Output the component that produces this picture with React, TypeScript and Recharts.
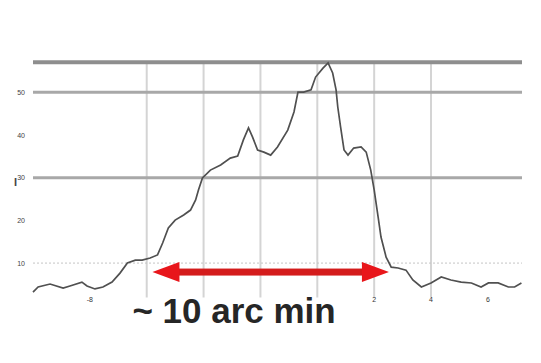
import React from "react";
import { LineChart, Line, XAxis, YAxis, ReferenceLine } from "recharts";

const xPositions = [0, 0.09, 0.3, 0.53, 0.65, 0.86, 0.95, 1.09, 1.23, 1.39, 1.53, 1.66, 1.8, 1.92, 2.06, 2.19, 2.28, 2.38, 2.5, 2.65, 2.77, 2.86, 2.91, 2.98, 3.12, 3.3, 3.47, 3.6, 3.7, 3.79, 3.86, 3.95, 4.06, 4.18, 4.3, 4.48, 4.59, 4.66, 4.76, 4.89, 4.97, 5.1, 5.19, 5.27, 5.33, 5.36, 5.41, 5.47, 5.54, 5.64, 5.77, 5.86, 5.94, 6.0, 6.07, 6.12, 6.21, 6.3, 6.42, 6.56, 6.68, 6.83, 7.0, 7.18, 7.35, 7.53, 7.71, 7.88, 8.01, 8.18, 8.36, 8.47, 8.59];
const profileValues = [0.065, 0.089, 0.103, 0.084, 0.094, 0.112, 0.094, 0.08, 0.089, 0.112, 0.154, 0.201, 0.215, 0.215, 0.225, 0.239, 0.295, 0.365, 0.402, 0.426, 0.449, 0.496, 0.543, 0.599, 0.636, 0.66, 0.692, 0.702, 0.777, 0.833, 0.791, 0.73, 0.72, 0.706, 0.744, 0.823, 0.908, 1.001, 1.001, 1.011, 1.071, 1.113, 1.137, 1.09, 1.011, 0.931, 0.837, 0.73, 0.706, 0.739, 0.744, 0.72, 0.636, 0.543, 0.416, 0.323, 0.229, 0.182, 0.178, 0.168, 0.122, 0.089, 0.108, 0.136, 0.122, 0.112, 0.108, 0.089, 0.108, 0.108, 0.089, 0.089, 0.108];
const xTicks = [1, 6, 7, 8];
const xTickLabels = ["-8", "2", "4", "6"];
const yTicks = [0.2, 0.4, 0.6, 0.8, 1.0];
const yTickLabels = ["10", "20", "30", "40", "50"];
const verticalGrid = [2, 3, 4, 5, 6, 7];
const thickLevels = [1.14, 1.0, 0.6];
const dottedLevel = 0.201;
const arrowStart = 2.1;
const arrowEnd = 6.26;
const arrowLevel = 0.159;
const annotation = "~ 10 arc min";
const yTitle = "I";

const data = xPositions.map((x, i) => ({ x, v: profileValues[i] }));

const ArrowShape = (props: any) => {
  const { x1, y1, x2 } = props;
  const y = y1;
  const head = 27;
  const half = 10;
  const shaft = 3.5;
  const left = Math.min(x1, x2);
  const right = Math.max(x1, x2);
  return (
    <g>
      <rect x={left + head - 2} y={y - shaft} width={right - left - 2 * head + 4} height={shaft * 2} fill="#d41c1c" />
      <polygon points={`${left},${y} ${left + head},${y - half} ${left + head},${y + half}`} fill="#e8161b" />
      <polygon points={`${right},${y} ${right - head},${y - half} ${right - head},${y + half}`} fill="#e8161b" />
      <text x={left - 20} y={y + 51} fontFamily="Liberation Sans, Arial, sans-serif" fontWeight="bold" fontSize={35} fill="#262626">
        {annotation}
      </text>
    </g>
  );
};

export default function App() {
  return (
    <div style={{ position: "absolute", left: 0, top: 0, width: 541, height: 363, background: "#fff" }}>
      <LineChart width={541} height={363} data={data} margin={{ top: 49.5, right: 19, bottom: 45.5, left: 0 }}>
        <XAxis
          dataKey="x"
          type="number"
          domain={[0, 8.6]}
          ticks={xTicks}
          tickFormatter={(v: number) => xTickLabels[xTicks.indexOf(v)] ?? ""}
          axisLine={false}
          tickLine={false}
          height={20}
          tick={{ fontSize: 7, fill: "#333", fontFamily: "Liberation Sans, Arial, sans-serif" }}
          tickMargin={-6}
          interval={0}
        />
        <YAxis
          type="number"
          domain={[0.04, 1.2]}
          ticks={yTicks}
          tickFormatter={(v: number) => yTickLabels[yTicks.indexOf(v)] ?? ""}
          axisLine={false}
          tickLine={false}
          width={33}
          tick={{ fontSize: 7, fill: "#444", fontFamily: "Liberation Sans, Arial, sans-serif" }}
          tickMargin={2}
          allowDataOverflow
          label={{ value: yTitle, position: "insideLeft", offset: 14, dy: 9, fontSize: 11, fill: "#444", fontWeight: "bold", fontFamily: "Liberation Sans, Arial, sans-serif" }}
        />
        {verticalGrid.map((gx) => (
          <ReferenceLine
            key={"v" + gx}
            segment={[{ x: gx, y: 0.04 }, { x: gx, y: 1.14 }]}
            stroke="#d4d4d4"
            strokeWidth={2}
          />
        ))}
        <ReferenceLine y={dottedLevel} stroke="#c4c4c4" strokeWidth={1} strokeDasharray="2 2" />
        {thickLevels.map((ly, i) => (
          <ReferenceLine key={"h" + ly} y={ly} stroke={i === 0 ? "#8e8e8e" : "#a8a8a8"} strokeWidth={i === 0 ? 4 : 3} />
        ))}
        <Line
          type="linear"
          dataKey="v"
          stroke="#505050"
          strokeWidth={1.7}
          dot={false}
          isAnimationActive={false}
        />
        <ReferenceLine
          segment={[{ x: arrowStart, y: arrowLevel }, { x: arrowEnd, y: arrowLevel }]}
          shape={ArrowShape}
          stroke="#e8161b"
        />
      </LineChart>
    </div>
  );
}
